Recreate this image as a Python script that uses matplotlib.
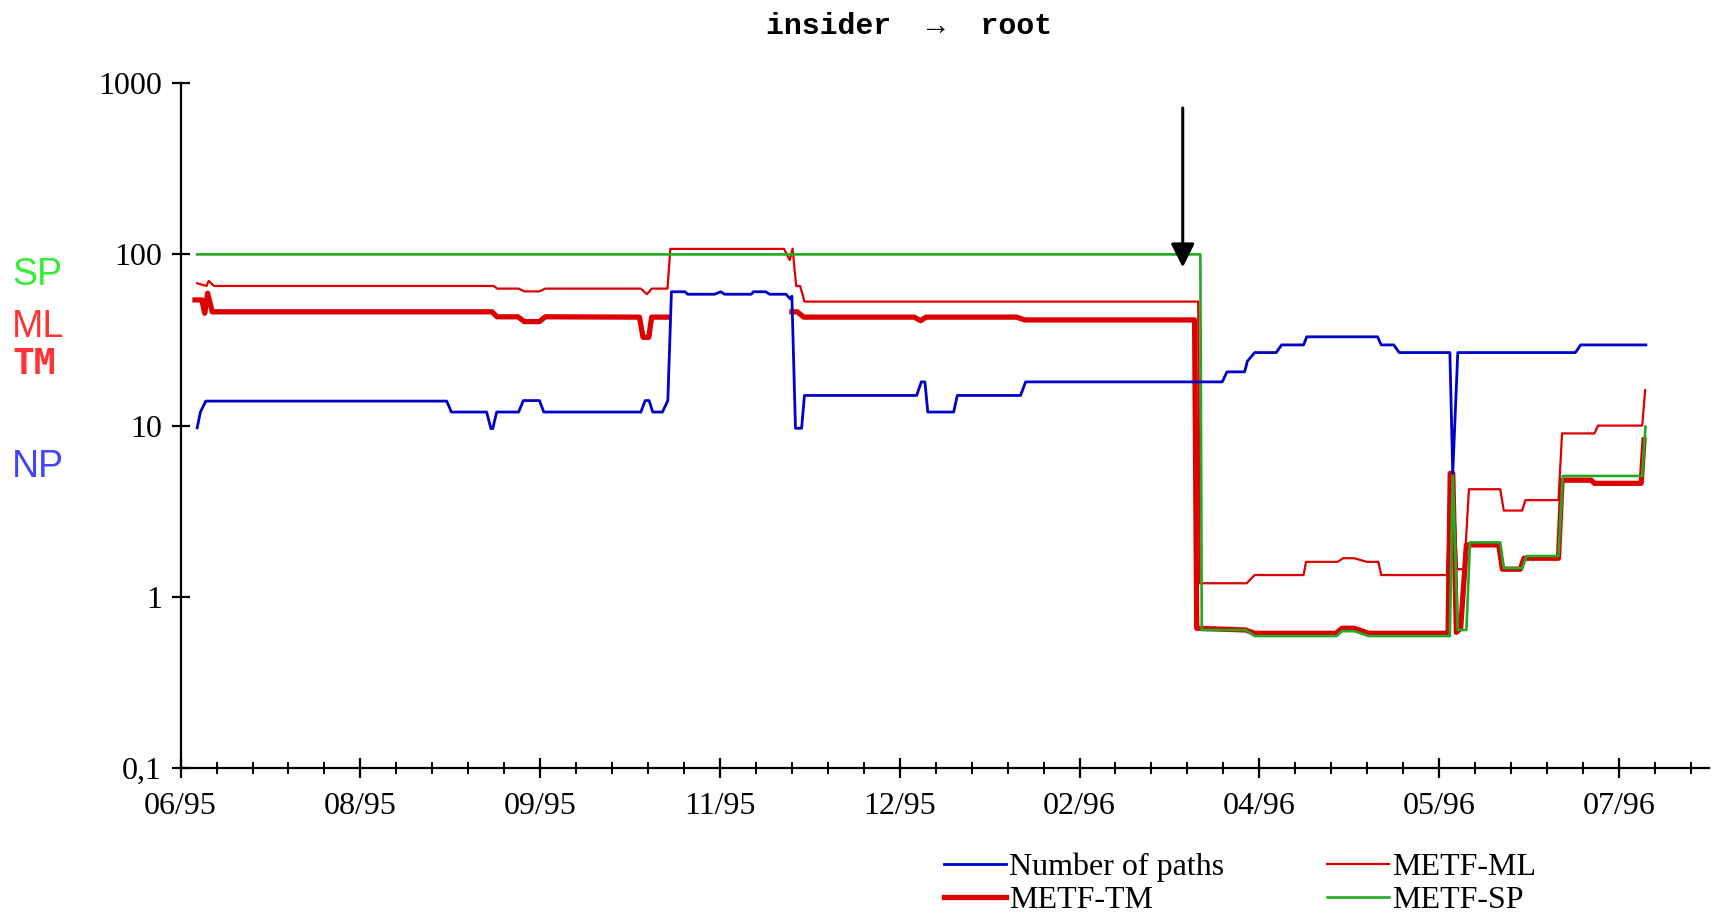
import numpy as np
import matplotlib
matplotlib.use("Agg")
import matplotlib.pyplot as plt

# x in days since the first date tick (one minor tick = 10 days)
np_days = [4.6, 5.5, 7.0, 74, 75.3, 85.1, 86.3, 86.8, 87.9, 94, 95.3, 99.8, 101, 128, 129.2, 130.3,
           131.3, 134, 135.5, 136.5, 140.3, 141, 148.5, 150.2, 151.3, 158.7, 159.3, 162.7, 163.8,
           168.4, 169.5, 170, 171, 172.7, 173.5, 204.7, 206, 207, 207.8, 215, 216, 233.6, 235,
           289.7, 291, 295.9, 296.7, 298.7, 304.7, 306.2, 312.3, 313.2, 332.9, 333.9, 337.4,
           338.9, 353, 353.8, 355.2, 387.9, 389.4, 407.5]
np_vals = [9.7, 12, 13.9, 13.9, 12, 12, 9.6, 9.6, 12, 12, 14, 14, 12, 12, 14, 14,
           12, 12, 14, 60.5, 60.5, 58.5, 58.5, 60.5, 58.5, 58.5, 60.5, 60.5, 58.5,
           58.5, 55, 57, 9.65, 9.65, 15, 15, 18, 18, 12, 12, 15, 15, 18,
           18, 20.6, 20.6, 23.8, 26.7, 26.7, 29.6, 29.6, 33, 33, 29.6, 29.6,
           26.7, 26.7, 5.26, 26.7, 26.7, 29.6, 29.6]

ml_days = [4.6, 7.2, 7.8, 9.3, 87, 88.1, 94, 95.6, 99.8, 101.4, 128, 129.7, 131, 135.4, 136.2,
           167.8, 169.4, 170.2, 171.2, 172.3, 173.5, 283.0, 283.4, 296.5, 298.7, 312.3, 313,
           321.8, 323.3, 326.4, 329.9, 333.1, 333.9, 352.2, 353.3, 353.8, 355, 357, 358.3,
           367, 368, 373.1, 374, 383.2, 384.2, 393.2, 394.2, 406.5, 407.3]
ml_vals = [67.8, 65.4, 70, 65.4, 65.4, 63.1, 63.1, 60.8, 60.8, 63.1, 63.1, 58.5, 63.1, 63.1, 107.7,
           107.7, 92.7, 108, 65.3, 65.3, 53, 53, 1.2, 1.2, 1.34, 1.34, 1.6,
           1.6, 1.68, 1.68, 1.6, 1.6, 1.34, 1.34, 5.26, 5.26, 1.45, 1.45, 4.25,
           4.25, 3.19, 3.19, 3.67, 3.67, 9.0, 9.0, 10.0, 10.0, 16.1]

tm_days = [4.0, 5.9, 6.7, 7.5, 8.8, 86.6, 88.0, 93.8, 95.6, 99.8, 101.4, 127.6, 128.6, 130.2,
           131, 135.4, 150, 170, 171.5, 173.3, 204, 205.8, 207.3, 232.5, 234.8, 282.0, 282.6,
           296.2, 298.7, 321.3, 323, 326.4, 330.4, 352.5, 353.1, 353.8, 354.8, 356, 357.6,
           366.6, 367.6, 372.6, 373.6, 383.2, 384.2, 392.3, 393.2, 406.2, 407]
tm_vals = [54.2, 54.2, 45.3, 59.3, 46.2, 46.2, 43.2, 43.2, 40.5, 40.5, 43.2, 43, 32.8, 32.8,
           43, 43, np.nan, 46.2, 46.2, 43, 43, 41, 43, 43, 41.4, 41.4, 0.655,
           0.64, 0.612, 0.612, 0.655, 0.655, 0.612, 0.612, 5.26, 5.26, 0.62, 0.655, 2.01,
           2.01, 1.45, 1.45, 1.68, 1.68, 4.8, 4.8, 4.6, 4.6, 8.25]

sp_days = [4.6, 283.6, 284.0, 296.2, 298.7, 321.5, 323, 326.4, 330.4, 353, 353.8, 355.2, 357.6,
           358.6, 367, 368, 373.1, 374.3, 383.2, 384.4, 406.5, 407.4]
sp_vals = [100, 100, 0.64, 0.64, 0.59, 0.59, 0.63, 0.63, 0.59, 0.59, 5.26, 0.64, 0.64,
           2.08, 2.08, 1.47, 1.47, 1.73, 1.73, 5.08, 5.08, 9.87]

date_labels = ["06/95", "08/95", "09/95", "11/95", "12/95", "02/96", "04/96", "05/96", "07/96"]
y_ticks = [0.1, 1, 10, 100, 1000]
y_labels = ["0,1", "1", "10", "100", "1000"]
arrow_day = 278.7

BLUE = "#0000cc"
RED = "#dd0000"
GREEN = "#22aa22"
serif = "Liberation Serif"

fig = plt.figure(figsize=(17.17, 9.13), dpi=100)
ax = fig.add_axes([0.1052, 0.1588, 0.890, 0.7501])

l_np, = ax.plot(np_days, np_vals, color=BLUE, lw=2.0, zorder=5, label="Number of paths")
l_tm, = ax.plot(tm_days, tm_vals, color=RED, lw=3.8, zorder=2, label="METF-TM")
l_ml, = ax.plot(ml_days, ml_vals, color=RED, lw=1.6, zorder=3, label="METF-ML")
l_sp, = ax.plot(sp_days, sp_vals, color=GREEN, lw=1.9, zorder=4, label="METF-SP")

ax.set_yscale("log")
ax.set_ylim(0.1, 1000)
ax.set_xlim(0, 425)
ax.set_yticks(y_ticks)
ax.set_yticklabels(y_labels)
ax.yaxis.set_minor_locator(matplotlib.ticker.NullLocator())
ax.set_xticks(np.arange(len(date_labels)) * 50)
ax.set_xticklabels(date_labels)
ax.set_xticks(np.arange(0, 421, 10), minor=True)

for s in ["top", "right"]:
    ax.spines[s].set_visible(False)
for s in ["left", "bottom"]:
    ax.spines[s].set_linewidth(1.6)

ax.tick_params(axis="y", which="major", direction="inout", length=13, width=1.6, pad=7)
ax.tick_params(axis="x", which="major", direction="inout", length=15, width=1.6, pad=10)
ax.tick_params(axis="x", which="minor", direction="inout", length=9, width=1.4)
for lab in ax.get_xticklabels() + ax.get_yticklabels():
    lab.set_fontfamily(serif)
    lab.set_fontsize(23)

ax.annotate("", xy=(arrow_day, 84), xytext=(arrow_day, 716),
            arrowprops=dict(arrowstyle="-|>", color="black", lw=2.2,
                            mutation_scale=36, shrinkA=0, shrinkB=0), zorder=6)

fig.text(0.5294, 0.9715, "insider  \u2192  root", ha="center", va="center", fontsize=21.5,
         family=["Liberation Mono", "DejaVu Sans Mono"], weight="bold")

fig.text(0.007, 0.699, "SP", color="#33ee33", fontsize=27, family="Liberation Sans", va="center")
fig.text(0.007, 0.642, "ML", color="#ff3333", fontsize=27, family="Liberation Sans", va="center")
fig.text(0.007, 0.601, "TM", color="#ff3333", fontsize=26, family="DejaVu Sans Mono",
         weight="bold", va="center")
fig.text(0.007, 0.489, "NP", color="#4444ff", fontsize=27, family="Liberation Sans", va="center")

fig.legend(handles=[l_np, l_tm, l_ml, l_sp], ncol=2, loc="upper left",
           bbox_to_anchor=(0.5498, 0.066), frameon=False, borderpad=0, borderaxespad=0,
           handlelength=1.95, handletextpad=0.1, columnspacing=3.2, labelspacing=0.12,
           prop={"family": serif, "size": 23})

fig.savefig("out.png", dpi=100)
